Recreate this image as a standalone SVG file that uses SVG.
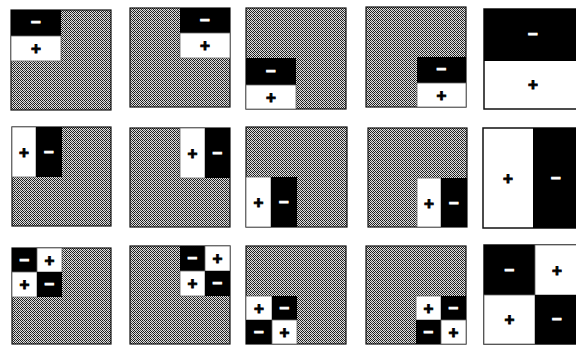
<svg xmlns="http://www.w3.org/2000/svg" width="576" height="345" viewBox="0 0 576 345">
<defs>
<pattern id="dither" width="4" height="4" patternUnits="userSpaceOnUse">
<rect width="4" height="4" fill="#e0e0e0"/>
<rect x="0" y="0" width="1" height="1" fill="#1a1a1a"/>
<rect x="2" y="0" width="1" height="1" fill="#1a1a1a"/>
<rect x="1" y="1" width="1" height="1" fill="#1a1a1a"/>
<rect x="3" y="1" width="1" height="1" fill="#555"/>
<rect x="0" y="2" width="1" height="1" fill="#555"/>
<rect x="2" y="2" width="1" height="1" fill="#1a1a1a"/>
<rect x="1" y="3" width="1" height="1" fill="#1a1a1a"/>
<rect x="3" y="3" width="1" height="1" fill="#1a1a1a"/>
</pattern>
</defs>
<style>
.bg{fill:url(#dither);stroke:#111;stroke-width:1.2}
.bk{fill:#000}
.wh{fill:#fff;stroke:#666;stroke-width:0.8}
.full{fill:#fff;stroke:#111;stroke-width:1.5}
.s{font-family:"Liberation Sans",Arial,sans-serif;font-weight:bold;font-size:17px;text-anchor:middle;dominant-baseline:central;stroke-width:0.9}
.p{fill:#000;stroke:#000}
.m{fill:#fff;stroke:#fff}
</style>
<rect width="576" height="345" fill="#fff"/>

<!-- Row 1 -->
<g id="b11">
<rect class="bg" x="11" y="10" width="100" height="100"/>
<rect class="bk" x="11" y="10" width="50" height="26"/>
<rect class="wh" x="11" y="36" width="50" height="25"/>
<text class="s m" x="36" y="22">−</text>
<text class="s p" x="36" y="48.5">+</text>
</g>
<g id="b12">
<rect class="bg" x="130" y="8" width="100" height="99"/>
<rect class="bk" x="180" y="8" width="50" height="25"/>
<rect class="wh" x="180" y="33" width="50" height="25"/>
<text class="s m" x="205" y="20">−</text>
<text class="s p" x="205" y="45.5">+</text>
</g>
<g id="b13">
<rect class="bg" x="246" y="8" width="100" height="101"/>
<rect class="bk" x="246" y="58" width="50" height="27"/>
<rect class="wh" x="246" y="85" width="50" height="24"/>
<text class="s m" x="271" y="71">−</text>
<text class="s p" x="271" y="97">+</text>
</g>
<g id="b14">
<rect class="bg" x="366" y="7" width="100" height="100"/>
<rect class="bk" x="417" y="57" width="49" height="26"/>
<rect class="wh" x="417" y="83" width="49" height="24"/>
<text class="s m" x="441.5" y="69.5">−</text>
<text class="s p" x="441.5" y="95">+</text>
</g>
<g id="b15">
<rect class="full" x="484" y="9" width="102" height="100"/>
<rect class="bk" x="484" y="9" width="102" height="52"/>
<text class="s m" x="533" y="34">−</text>
<text class="s p" x="533" y="84">+</text>
</g>

<!-- Row 2 -->
<g id="b21">
<rect class="bg" x="12" y="127" width="99" height="99"/>
<rect class="wh" x="12" y="127" width="24" height="50"/>
<rect class="bk" x="36" y="127" width="26" height="50"/>
<text class="s p" x="24" y="152">+</text>
<text class="s m" x="49" y="152">−</text>
</g>
<g id="b22">
<rect class="bg" x="130" y="128" width="100" height="99"/>
<rect class="wh" x="180" y="128" width="25" height="50"/>
<rect class="bk" x="205" y="128" width="25" height="50"/>
<text class="s p" x="192.5" y="153">+</text>
<text class="s m" x="217.5" y="153">−</text>
</g>
<g id="b23">
<rect class="bg" x="246" y="127" width="101" height="100"/>
<rect class="wh" x="246" y="177" width="25" height="50"/>
<rect class="bk" x="271" y="177" width="26" height="50"/>
<text class="s p" x="258.5" y="202">+</text>
<text class="s m" x="284" y="202">−</text>
</g>
<g id="b24">
<rect class="bg" x="368" y="128" width="99" height="99"/>
<rect class="wh" x="417" y="178" width="24" height="49"/>
<rect class="bk" x="441" y="178" width="26" height="49"/>
<text class="s p" x="429" y="203">+</text>
<text class="s m" x="454" y="203">−</text>
</g>
<g id="b25">
<rect class="full" x="483" y="128" width="102" height="100"/>
<rect class="bk" x="533" y="128" width="52" height="100"/>
<text class="s p" x="508" y="178">+</text>
<text class="s m" x="556" y="178">−</text>
</g>

<!-- Row 3 -->
<g id="b31">
<rect class="bg" x="12" y="248" width="99" height="96"/>
<rect class="bk" x="12" y="248" width="25" height="24"/>
<rect class="wh" x="37" y="248" width="25" height="24"/>
<rect class="wh" x="12" y="272" width="25" height="25"/>
<rect class="bk" x="37" y="272" width="25" height="25"/>
<text class="s m" x="24.5" y="260">−</text>
<text class="s p" x="49.5" y="260">+</text>
<text class="s p" x="24.5" y="284.5">+</text>
<text class="s m" x="49.5" y="284.5">−</text>
</g>
<g id="b32">
<rect class="bg" x="130" y="246" width="100" height="98"/>
<rect class="bk" x="180" y="246" width="25" height="25"/>
<rect class="wh" x="205" y="246" width="25" height="25"/>
<rect class="wh" x="180" y="271" width="25" height="25"/>
<rect class="bk" x="205" y="271" width="25" height="25"/>
<text class="s m" x="192.5" y="258.5">−</text>
<text class="s p" x="217.5" y="258.5">+</text>
<text class="s p" x="192.5" y="283.5">+</text>
<text class="s m" x="217.5" y="283.5">−</text>
</g>
<g id="b33">
<rect class="bg" x="246" y="246" width="100" height="98"/>
<rect class="wh" x="246" y="296" width="26" height="24"/>
<rect class="bk" x="272" y="296" width="25" height="24"/>
<rect class="bk" x="246" y="320" width="26" height="24"/>
<rect class="wh" x="272" y="320" width="25" height="24"/>
<text class="s p" x="259" y="308">+</text>
<text class="s m" x="284.5" y="308">−</text>
<text class="s m" x="259" y="332">−</text>
<text class="s p" x="284.5" y="332">+</text>
</g>
<g id="b34">
<rect class="bg" x="366" y="246" width="100" height="98"/>
<rect class="wh" x="416" y="296" width="25" height="24"/>
<rect class="bk" x="441" y="296" width="25" height="24"/>
<rect class="bk" x="416" y="320" width="25" height="24"/>
<rect class="wh" x="441" y="320" width="25" height="24"/>
<text class="s p" x="428.5" y="308">+</text>
<text class="s m" x="453.5" y="308">−</text>
<text class="s m" x="428.5" y="332">−</text>
<text class="s p" x="453.5" y="332">+</text>
</g>
<g id="b35">
<rect class="full" x="484" y="245" width="102" height="99"/>
<rect class="bk" x="484" y="245" width="51" height="50"/>
<rect class="wh" x="535" y="245" width="51" height="50"/>
<rect class="wh" x="484" y="295" width="51" height="49"/>
<rect class="bk" x="535" y="295" width="51" height="49"/>
<text class="s m" x="509.5" y="270">−</text>
<text class="s p" x="557" y="270">+</text>
<text class="s p" x="509.5" y="319.5">+</text>
<text class="s m" x="557" y="319.5">−</text>
</g>
</svg>
